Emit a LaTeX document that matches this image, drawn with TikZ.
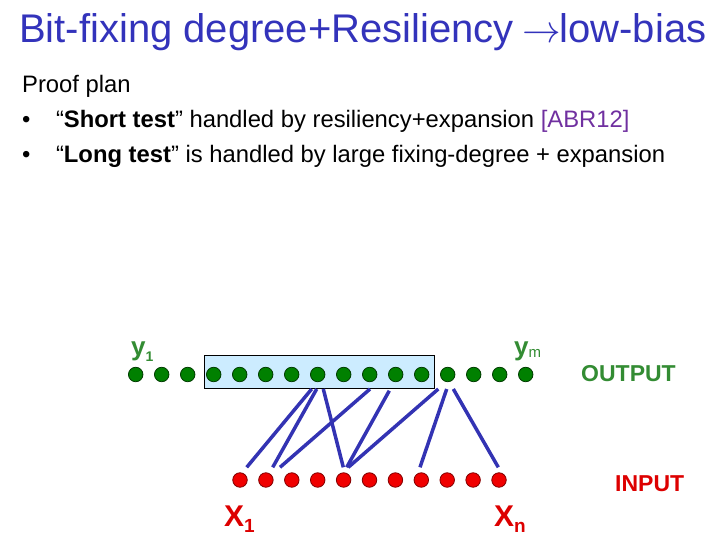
\documentclass[tikz,border=0pt]{standalone}
\usepackage{graphicx}
\usepackage{fontspec}
\setmainfont{Liberation Sans}
\definecolor{titleblue}{RGB}{51,51,187}
\definecolor{refpurple}{RGB}{112,48,160}
\definecolor{txtgreen}{RGB}{51,140,51}
\definecolor{dotgreen}{RGB}{0,128,0}
\definecolor{dotgreenline}{RGB}{0,60,0}
\definecolor{dotred}{RGB}{240,0,0}
\definecolor{dotredline}{RGB}{130,0,0}
\definecolor{txtred}{RGB}{221,0,0}
\definecolor{boxblue}{RGB}{204,236,255}
\definecolor{edgeblue}{RGB}{51,51,179}
\tikzset{
  gdot/.style={circle, fill=dotgreen, draw=dotgreenline, line width=0.8pt, minimum size=14.5pt, inner sep=0pt},
  rdot/.style={circle, fill=dotred, draw=dotredline, line width=0.8pt, minimum size=14.5pt, inner sep=0pt},
  edge/.style={draw=edgeblue, line width=3.5pt},
  txt/.style={inner sep=0pt, anchor=base west},
}
\begin{document}
\begin{tikzpicture}[x=1pt,y=-1pt]
\useasboundingbox (0,0) rectangle (720,540);
% title
\node[txt, text=titleblue, font=\fontsize{40}{44}\selectfont] (title) at (19,43)
  {Bit-fixing degree+Resiliency \hspace{-3pt}\scalebox{1.55}{$\rightarrow$}\hspace{-1pt}low-bias};
% body text
\node[txt, font=\fontsize{23.8}{28}\selectfont] (plan) at (22,93) {Proof plan};
\node[txt, font=\fontsize{23.8}{28}\selectfont] (b1) at (22,127.5)
  {•\hspace{25.5pt}“\textbf{Short test}” handled by resiliency+expansion \textcolor{refpurple}{[ABR12]}};
\node[txt, font=\fontsize{23.8}{28}\selectfont] (b2) at (22,162.5)
  {•\hspace{25.5pt}“\textbf{Long test}” is handled by large fixing-degree + expansion};
% box
\node[draw=black, line width=1.2pt, fill=boxblue, minimum width=230pt, minimum height=33pt, inner sep=0pt] (box) at (319.3,371.7) {};
% green dots
\foreach \i in {1,...,16} {
  \node[gdot] (g\i) at ({135.7+26*(\i-1)},374.5) {};
}
% red dots
\foreach \i in {1,...,11} {
  \node[rdot] (r\i) at ({240+25.9*(\i-1)},480) {};
}
% labels
\node[txt, text=txtgreen, font=\bfseries\fontsize{26}{28}\selectfont] (y1) at (131,355.5) {y\raisebox{-6pt}{\fontsize{14}{16}\selectfont 1}};
\node[txt, text=txtgreen, font=\bfseries\fontsize{26}{28}\selectfont] (ym) at (514,355.5) {y\raisebox{-2pt}{\mdseries\fontsize{15}{16}\selectfont m}};
\node[txt, text=txtgreen, font=\bfseries\fontsize{23}{26}\selectfont] (out) at (581,381.7) {OUTPUT};
\node[txt, text=txtred, font=\bfseries\fontsize{23}{26}\selectfont] (inp) at (615,491.7) {INPUT};
\node[txt, text=txtred, font=\bfseries\fontsize{30}{32}\selectfont] (x1) at (224,526) {X\raisebox{-6pt}{\fontsize{19}{20}\selectfont 1}};
\node[txt, text=txtred, font=\bfseries\fontsize{30}{32}\selectfont] (xn) at (494,526) {X\raisebox{-6pt}{\fontsize{19}{20}\selectfont n}};
% connector ends
\coordinate (t1) at (311.7,389);
\coordinate (t2) at (316.7,389);
\coordinate (t3) at (323.3,389);
\coordinate (t4) at (370,389);
\coordinate (t5) at (389.3,390.7);
\coordinate (t6) at (438.3,389);
\coordinate (t7) at (446.7,389);
\coordinate (t8) at (453.3,389);
\coordinate (e1) at (246.7,467.3);
\coordinate (e2) at (272.7,467.3);
\coordinate (e3) at (280,467.3);
\coordinate (e4) at (343.3,467.3);
\coordinate (e5) at (346.7,467.3);
\coordinate (e6) at (348.3,467.3);
\coordinate (e7) at (420,467.3);
\coordinate (e8) at (498.3,467.3);
\draw[edge] (t1) -- (e1);
\draw[edge] (t2) -- (e2);
\draw[edge] (t4) -- (e3);
\draw[edge] (t3) -- (e4);
\draw[edge] (t5) -- (e5);
\draw[edge] (t6) -- (e6);
\draw[edge] (t7) -- (e7);
\draw[edge] (t8) -- (e8);
\end{tikzpicture}
\end{document}
